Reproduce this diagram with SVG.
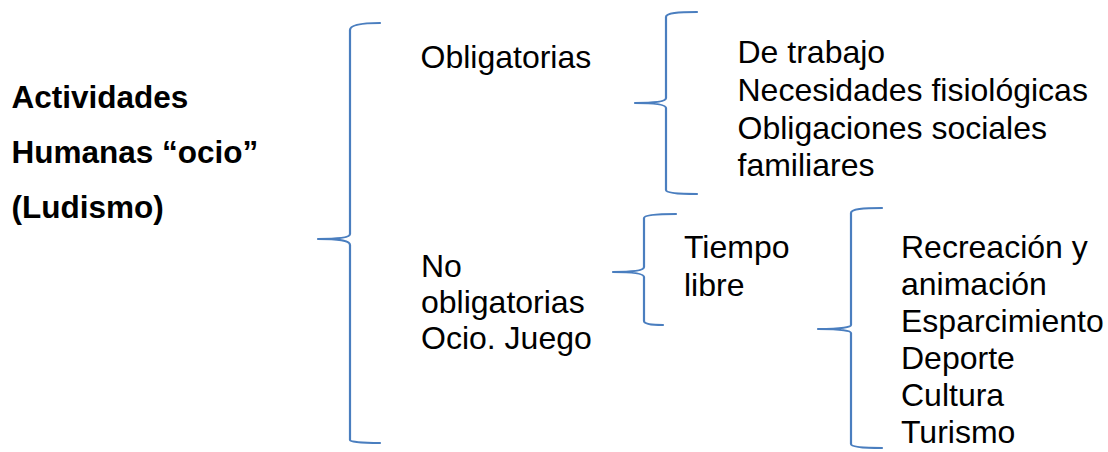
<svg xmlns="http://www.w3.org/2000/svg" width="1108" height="452" viewBox="0 0 1108 452">
<style>
  .t { font-family: "Liberation Sans", Arial, sans-serif; font-size: 32px; fill: #000; }
  .b { font-weight: bold; font-size: 31.5px; }
  .brace { fill: none; stroke: #4a7ebf; stroke-width: 2.2; stroke-linecap: round; stroke-linejoin: round; }
</style>
<rect width="1108" height="452" fill="#fff"/>
<g id="connectors">
  <path class="brace" d="M380,23 C362,23 350,25 350,30 L350,234 C350,237 342,239 318,239 C342,239 350,241 350,245 L350,440 C350,442 362,443 380,443"/>
  <path class="brace" d="M697,12 C678,12 666,13 666,17 L666,98 C666,101 658,103 635,103 C658,103 666,105 666,108 L666,190 C666,193 678,194 697,194"/>
  <path class="brace" d="M676,214 C656,214 644,215 644,218 L644,267 C644,270 636,272 613,272 C636,272 644,274 644,277 L644,321 C644,324 652,325 663,325"/>
  <path class="brace" d="M882,208 C863,208 851,209 851,213 L851,325 C851,327 843,329 818,329 C843,329 851,331 851,333 L851,444 C851,447 863,448 882,448"/>
</g>
<g id="root">
  <text class="t b" x="11.5" y="108">Actividades</text>
  <text class="t b" x="11.5" y="163">Humanas “ocio”</text>
  <text class="t b" x="11.5" y="218">(Ludismo)</text>
</g>
<g id="obligatorias">
  <text class="t" x="420.5" y="68">Obligatorias</text>
</g>
<g id="obligatorias-list">
  <text class="t" x="737.5" y="63">De trabajo</text>
  <text class="t" x="737.5" y="101">Necesidades fisiológicas</text>
  <text class="t" x="737.5" y="139">Obligaciones sociales</text>
  <text class="t" x="737.5" y="176">familiares</text>
</g>
<g id="no-obligatorias">
  <text class="t" x="421" y="277">No</text>
  <text class="t" x="421" y="313">obligatorias</text>
  <text class="t" x="421" y="349">Ocio. Juego</text>
</g>
<g id="tiempo-libre">
  <text class="t" x="684" y="258">Tiempo</text>
  <text class="t" x="684" y="296">libre</text>
</g>
<g id="tiempo-libre-list">
  <text class="t" x="901" y="258">Recreación y</text>
  <text class="t" x="901" y="295">animación</text>
  <text class="t" x="901" y="332">Esparcimiento</text>
  <text class="t" x="901" y="369">Deporte</text>
  <text class="t" x="901" y="406">Cultura</text>
  <text class="t" x="901" y="443">Turismo</text>
</g>
</svg>
